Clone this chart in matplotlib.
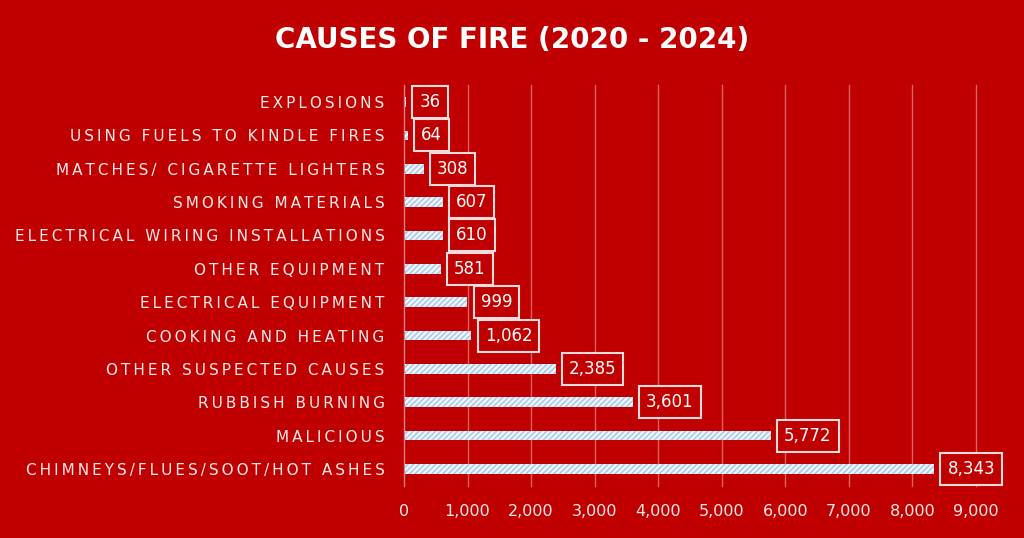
import numpy as np
import matplotlib
matplotlib.use("Agg")
import matplotlib.pyplot as plt
from matplotlib.ticker import FuncFormatter

causes = ["CHIMNEYS/FLUES/SOOT/HOT ASHES", "MALICIOUS", "RUBBISH BURNING",
          "OTHER SUSPECTED CAUSES", "COOKING AND HEATING", "ELECTRICAL EQUIPMENT",
          "OTHER EQUIPMENT", "ELECTRICAL WIRING INSTALLATIONS", "SMOKING MATERIALS",
          "MATCHES/ CIGARETTE LIGHTERS", "USING FUELS TO KINDLE FIRES", "EXPLOSIONS"]
counts = [8343, 5772, 3601, 2385, 1062, 999, 581, 610, 607, 308, 64, 36]
xticks = [0, 1000, 2000, 3000, 4000, 5000, 6000, 7000, 8000, 9000]

red = "#c00000"
plt.rcParams["font.family"] = ["DejaVu Sans"]
plt.rcParams["hatch.linewidth"] = 1.2

fig = plt.figure(figsize=(10.24, 5.38), dpi=100, facecolor=red)
ax = fig.add_axes([0.3945, 0.0972, 0.5586, 0.7442], facecolor=red)

y = np.arange(len(causes))
ax.barh(y, counts, height=0.29, color="#f2f7fc", edgecolor="#a9cbeb",
        hatch="//////", linewidth=0)

# value boxes
for i, v in enumerate(counts):
    ax.annotate(f"{v:,}", xy=(v, i), xytext=(9.5, 0), textcoords="offset points",
                ha="left", va="center", color="white", fontsize=12,
                bbox=dict(boxstyle="square,pad=0.42", fc=red, ec="#f4dcdc", lw=1.5))

def spaced(s):
    return "\u2009".join(s)

ax.set_yticks(y)
ax.set_yticklabels([spaced(c) for c in causes], color="#f8eaea", fontsize=11)
ax.set_xticks(xticks)
ax.xaxis.set_major_formatter(FuncFormatter(lambda v, p: f"{int(v):,}"))
ax.tick_params(axis="x", length=0, pad=13, labelcolor="#f8eaea", labelsize=11.5)
ax.tick_params(axis="y", length=0, pad=14)
ax.set_xlim(0, 9000)
ax.set_ylim(-0.5, len(causes) - 0.5)

ax.grid(axis="x", color="#e07a7a", linewidth=1, alpha=0.8)
for gl in ax.get_xgridlines():
    gl.set_clip_on(False)
ax.set_axisbelow(True)
for s in ["top", "right", "bottom"]:
    ax.spines[s].set_visible(False)
ax.spines["left"].set_color("#d98080")

fig.text(0.5, 0.925, "CAUSES OF FIRE (2020 - 2024)", ha="center", va="center",
         color="white", fontsize=20, fontweight="bold")

fig.savefig("out.png", dpi=100, facecolor=red)
